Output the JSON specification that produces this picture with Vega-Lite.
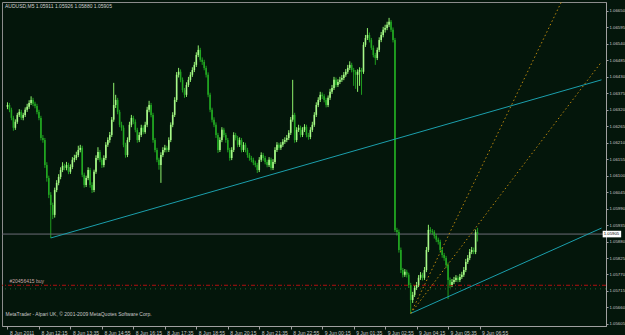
{
"$schema": "https://vega.github.io/schema/vega-lite/v6.json",
"width": 604, "height": 324,
"autosize": {"type": "none"},
"padding": {"left": 2, "top": 2, "right": 19, "bottom": 9},
"background": "#04160b",
"title": {"text": "AUDUSD,M5  1.05911 1.05926 1.05880 1.05905", "anchor": "start", "frame": "group", "orient": "top", "offset": -9, "fontSize": 5, "fontWeight": "normal", "color": "#d0d0d0", "font": "Liberation Sans", "dx": 3, "baseline": "middle"},
"config": {"view": {"stroke": "#8c8c8c", "strokeWidth": 1, "fill": "#04160b"}, "font": "Liberation Sans",
 "axis": {"labelOverlap": false, "grid": false, "labelColor": "#c8c8c8", "tickColor": "#a0a0a0", "domainColor": "#a0a0a0", "labelFlush": false},
 "axisY": {"labelOverlap": false, "labelBound": false}},
"datasets": {
"bars": [
{"i":0,"o":1.06330,"h":1.06345,"l":1.06322,"c":1.06336},
{"i":1,"o":1.06336,"h":1.06343,"l":1.06312,"c":1.06320},
{"i":2,"o":1.06320,"h":1.06327,"l":1.06285,"c":1.06293},
{"i":3,"o":1.06293,"h":1.06300,"l":1.06250,"c":1.06260},
{"i":4,"o":1.06260,"h":1.06288,"l":1.06253,"c":1.06280},
{"i":5,"o":1.06280,"h":1.06310,"l":1.06273,"c":1.06303},
{"i":6,"o":1.06303,"h":1.06322,"l":1.06296,"c":1.06313},
{"i":7,"o":1.06313,"h":1.06320,"l":1.06286,"c":1.06293},
{"i":8,"o":1.06293,"h":1.06310,"l":1.06285,"c":1.06303},
{"i":9,"o":1.06303,"h":1.06328,"l":1.06296,"c":1.06320},
{"i":10,"o":1.06320,"h":1.06340,"l":1.06313,"c":1.06330},
{"i":11,"o":1.06330,"h":1.06352,"l":1.06323,"c":1.06343},
{"i":12,"o":1.06343,"h":1.06365,"l":1.06336,"c":1.06353},
{"i":13,"o":1.06353,"h":1.06360,"l":1.06332,"c":1.06340},
{"i":14,"o":1.06340,"h":1.06347,"l":1.06325,"c":1.06333},
{"i":15,"o":1.06333,"h":1.06340,"l":1.06305,"c":1.06313},
{"i":16,"o":1.06313,"h":1.06320,"l":1.06285,"c":1.06293},
{"i":17,"o":1.06293,"h":1.06300,"l":1.06218,"c":1.06226},
{"i":18,"o":1.06226,"h":1.06236,"l":1.06210,"c":1.06219},
{"i":19,"o":1.06219,"h":1.06226,"l":1.06126,"c":1.06136},
{"i":20,"o":1.06136,"h":1.06145,"l":1.06080,"c":1.06092},
{"i":21,"o":1.06092,"h":1.06100,"l":1.06025,"c":1.06036},
{"i":22,"o":1.06036,"h":1.06045,"l":1.05892,"c":1.06002},
{"i":23,"o":1.06002,"h":1.06010,"l":1.05955,"c":1.05969},
{"i":24,"o":1.05969,"h":1.06060,"l":1.05960,"c":1.06052},
{"i":25,"o":1.06052,"h":1.06085,"l":1.06045,"c":1.06076},
{"i":26,"o":1.06076,"h":1.06105,"l":1.06068,"c":1.06096},
{"i":27,"o":1.06096,"h":1.06128,"l":1.06088,"c":1.06119},
{"i":28,"o":1.06119,"h":1.06145,"l":1.06112,"c":1.06133},
{"i":29,"o":1.06133,"h":1.06140,"l":1.06118,"c":1.06126},
{"i":30,"o":1.06126,"h":1.06146,"l":1.06118,"c":1.06136},
{"i":31,"o":1.06136,"h":1.06143,"l":1.06105,"c":1.06113},
{"i":32,"o":1.06113,"h":1.06138,"l":1.06106,"c":1.06129},
{"i":33,"o":1.06129,"h":1.06162,"l":1.06122,"c":1.06153},
{"i":34,"o":1.06153,"h":1.06170,"l":1.06145,"c":1.06159},
{"i":35,"o":1.06159,"h":1.06180,"l":1.06152,"c":1.06169},
{"i":36,"o":1.06169,"h":1.06200,"l":1.06162,"c":1.06186},
{"i":37,"o":1.06186,"h":1.06203,"l":1.06178,"c":1.06193},
{"i":38,"o":1.06193,"h":1.06200,"l":1.06095,"c":1.06103},
{"i":39,"o":1.06103,"h":1.06110,"l":1.06060,"c":1.06069},
{"i":40,"o":1.06069,"h":1.06100,"l":1.06062,"c":1.06092},
{"i":41,"o":1.06092,"h":1.06128,"l":1.06085,"c":1.06119},
{"i":42,"o":1.06119,"h":1.06126,"l":1.06060,"c":1.06069},
{"i":43,"o":1.06069,"h":1.06078,"l":1.06042,"c":1.06052},
{"i":44,"o":1.06052,"h":1.06120,"l":1.06045,"c":1.06113},
{"i":45,"o":1.06113,"h":1.06168,"l":1.06106,"c":1.06159},
{"i":46,"o":1.06159,"h":1.06195,"l":1.06152,"c":1.06179},
{"i":47,"o":1.06179,"h":1.06186,"l":1.06145,"c":1.06153},
{"i":48,"o":1.06153,"h":1.06160,"l":1.06126,"c":1.06136},
{"i":49,"o":1.06136,"h":1.06168,"l":1.06128,"c":1.06159},
{"i":50,"o":1.06159,"h":1.06212,"l":1.06152,"c":1.06203},
{"i":51,"o":1.06203,"h":1.06228,"l":1.06196,"c":1.06219},
{"i":52,"o":1.06219,"h":1.06246,"l":1.06210,"c":1.06236},
{"i":53,"o":1.06236,"h":1.06296,"l":1.06229,"c":1.06287},
{"i":54,"o":1.06287,"h":1.06410,"l":1.06280,"c":1.06336},
{"i":55,"o":1.06336,"h":1.06370,"l":1.06326,"c":1.06353},
{"i":56,"o":1.06353,"h":1.06360,"l":1.06305,"c":1.06313},
{"i":57,"o":1.06313,"h":1.06320,"l":1.06262,"c":1.06270},
{"i":58,"o":1.06270,"h":1.06280,"l":1.06250,"c":1.06260},
{"i":59,"o":1.06260,"h":1.06268,"l":1.06195,"c":1.06203},
{"i":60,"o":1.06203,"h":1.06210,"l":1.06160,"c":1.06169},
{"i":61,"o":1.06169,"h":1.06228,"l":1.06162,"c":1.06219},
{"i":62,"o":1.06219,"h":1.06280,"l":1.06212,"c":1.06270},
{"i":63,"o":1.06270,"h":1.06303,"l":1.06262,"c":1.06293},
{"i":64,"o":1.06293,"h":1.06300,"l":1.06272,"c":1.06280},
{"i":65,"o":1.06280,"h":1.06288,"l":1.06245,"c":1.06253},
{"i":66,"o":1.06253,"h":1.06260,"l":1.06210,"c":1.06219},
{"i":67,"o":1.06219,"h":1.06245,"l":1.06212,"c":1.06236},
{"i":68,"o":1.06236,"h":1.06270,"l":1.06229,"c":1.06260},
{"i":69,"o":1.06260,"h":1.06268,"l":1.06238,"c":1.06246},
{"i":70,"o":1.06246,"h":1.06280,"l":1.06240,"c":1.06270},
{"i":71,"o":1.06270,"h":1.06330,"l":1.06262,"c":1.06320},
{"i":72,"o":1.06320,"h":1.06350,"l":1.06312,"c":1.06336},
{"i":73,"o":1.06336,"h":1.06343,"l":1.06295,"c":1.06303},
{"i":74,"o":1.06303,"h":1.06310,"l":1.06210,"c":1.06219},
{"i":75,"o":1.06219,"h":1.06226,"l":1.06178,"c":1.06186},
{"i":76,"o":1.06186,"h":1.06193,"l":1.06145,"c":1.06153},
{"i":77,"o":1.06153,"h":1.06160,"l":1.06120,"c":1.06136},
{"i":78,"o":1.06136,"h":1.06178,"l":1.06076,"c":1.06169},
{"i":79,"o":1.06169,"h":1.06195,"l":1.06162,"c":1.06186},
{"i":80,"o":1.06186,"h":1.06203,"l":1.06178,"c":1.06193},
{"i":81,"o":1.06193,"h":1.06200,"l":1.06178,"c":1.06186},
{"i":82,"o":1.06186,"h":1.06228,"l":1.06179,"c":1.06219},
{"i":83,"o":1.06219,"h":1.06278,"l":1.06212,"c":1.06270},
{"i":84,"o":1.06270,"h":1.06312,"l":1.06262,"c":1.06303},
{"i":85,"o":1.06303,"h":1.06362,"l":1.06296,"c":1.06353},
{"i":86,"o":1.06353,"h":1.06446,"l":1.06346,"c":1.06437},
{"i":87,"o":1.06437,"h":1.06460,"l":1.06428,"c":1.06447},
{"i":88,"o":1.06447,"h":1.06455,"l":1.06412,"c":1.06420},
{"i":89,"o":1.06420,"h":1.06428,"l":1.06378,"c":1.06386},
{"i":90,"o":1.06386,"h":1.06393,"l":1.06360,"c":1.06370},
{"i":91,"o":1.06370,"h":1.06412,"l":1.06363,"c":1.06403},
{"i":92,"o":1.06403,"h":1.06430,"l":1.06396,"c":1.06420},
{"i":93,"o":1.06420,"h":1.06446,"l":1.06413,"c":1.06437},
{"i":94,"o":1.06437,"h":1.06462,"l":1.06430,"c":1.06453},
{"i":95,"o":1.06453,"h":1.06480,"l":1.06446,"c":1.06470},
{"i":96,"o":1.06470,"h":1.06512,"l":1.06463,"c":1.06503},
{"i":97,"o":1.06503,"h":1.06535,"l":1.06496,"c":1.06520},
{"i":98,"o":1.06520,"h":1.06527,"l":1.06480,"c":1.06487},
{"i":99,"o":1.06487,"h":1.06495,"l":1.06470,"c":1.06480},
{"i":100,"o":1.06480,"h":1.06487,"l":1.06452,"c":1.06460},
{"i":101,"o":1.06460,"h":1.06467,"l":1.06428,"c":1.06437},
{"i":102,"o":1.06437,"h":1.06445,"l":1.06362,"c":1.06370},
{"i":103,"o":1.06370,"h":1.06377,"l":1.06312,"c":1.06320},
{"i":104,"o":1.06320,"h":1.06327,"l":1.06278,"c":1.06287},
{"i":105,"o":1.06287,"h":1.06295,"l":1.06262,"c":1.06270},
{"i":106,"o":1.06270,"h":1.06278,"l":1.06226,"c":1.06236},
{"i":107,"o":1.06236,"h":1.06243,"l":1.06176,"c":1.06186},
{"i":108,"o":1.06186,"h":1.06228,"l":1.06179,"c":1.06219},
{"i":109,"o":1.06219,"h":1.06262,"l":1.06212,"c":1.06253},
{"i":110,"o":1.06253,"h":1.06260,"l":1.06228,"c":1.06236},
{"i":111,"o":1.06236,"h":1.06243,"l":1.06210,"c":1.06219},
{"i":112,"o":1.06219,"h":1.06226,"l":1.06178,"c":1.06186},
{"i":113,"o":1.06186,"h":1.06193,"l":1.06150,"c":1.06159},
{"i":114,"o":1.06159,"h":1.06195,"l":1.06152,"c":1.06186},
{"i":115,"o":1.06186,"h":1.06245,"l":1.06179,"c":1.06236},
{"i":116,"o":1.06236,"h":1.06243,"l":1.06218,"c":1.06226},
{"i":117,"o":1.06226,"h":1.06233,"l":1.06195,"c":1.06203},
{"i":118,"o":1.06203,"h":1.06228,"l":1.06196,"c":1.06219},
{"i":119,"o":1.06219,"h":1.06226,"l":1.06178,"c":1.06186},
{"i":120,"o":1.06186,"h":1.06212,"l":1.06179,"c":1.06203},
{"i":121,"o":1.06203,"h":1.06210,"l":1.06178,"c":1.06186},
{"i":122,"o":1.06186,"h":1.06193,"l":1.06160,"c":1.06169},
{"i":123,"o":1.06169,"h":1.06176,"l":1.06150,"c":1.06159},
{"i":124,"o":1.06159,"h":1.06166,"l":1.06145,"c":1.06153},
{"i":125,"o":1.06153,"h":1.06160,"l":1.06135,"c":1.06143},
{"i":126,"o":1.06143,"h":1.06150,"l":1.06128,"c":1.06136},
{"i":127,"o":1.06136,"h":1.06143,"l":1.06109,"c":1.06119},
{"i":128,"o":1.06119,"h":1.06162,"l":1.06112,"c":1.06153},
{"i":129,"o":1.06153,"h":1.06178,"l":1.06146,"c":1.06169},
{"i":130,"o":1.06169,"h":1.06176,"l":1.06150,"c":1.06159},
{"i":131,"o":1.06159,"h":1.06166,"l":1.06138,"c":1.06146},
{"i":132,"o":1.06146,"h":1.06153,"l":1.06128,"c":1.06136},
{"i":133,"o":1.06136,"h":1.06162,"l":1.06129,"c":1.06153},
{"i":134,"o":1.06153,"h":1.06160,"l":1.06118,"c":1.06126},
{"i":135,"o":1.06126,"h":1.06155,"l":1.06119,"c":1.06146},
{"i":136,"o":1.06146,"h":1.06195,"l":1.06139,"c":1.06186},
{"i":137,"o":1.06186,"h":1.06212,"l":1.06179,"c":1.06203},
{"i":138,"o":1.06203,"h":1.06210,"l":1.06186,"c":1.06193},
{"i":139,"o":1.06193,"h":1.06212,"l":1.06186,"c":1.06203},
{"i":140,"o":1.06203,"h":1.06222,"l":1.06196,"c":1.06213},
{"i":141,"o":1.06213,"h":1.06228,"l":1.06206,"c":1.06219},
{"i":142,"o":1.06219,"h":1.06236,"l":1.06212,"c":1.06226},
{"i":143,"o":1.06226,"h":1.06252,"l":1.06219,"c":1.06243},
{"i":144,"o":1.06243,"h":1.06296,"l":1.06236,"c":1.06287},
{"i":145,"o":1.06287,"h":1.06420,"l":1.06280,"c":1.06303},
{"i":146,"o":1.06303,"h":1.06310,"l":1.06210,"c":1.06219},
{"i":147,"o":1.06219,"h":1.06262,"l":1.06212,"c":1.06253},
{"i":148,"o":1.06253,"h":1.06270,"l":1.06246,"c":1.06260},
{"i":149,"o":1.06260,"h":1.06267,"l":1.06228,"c":1.06236},
{"i":150,"o":1.06236,"h":1.06262,"l":1.06229,"c":1.06253},
{"i":151,"o":1.06253,"h":1.06272,"l":1.06246,"c":1.06263},
{"i":152,"o":1.06263,"h":1.06270,"l":1.06228,"c":1.06236},
{"i":153,"o":1.06236,"h":1.06243,"l":1.06220,"c":1.06229},
{"i":154,"o":1.06229,"h":1.06262,"l":1.06222,"c":1.06253},
{"i":155,"o":1.06253,"h":1.06280,"l":1.06246,"c":1.06270},
{"i":156,"o":1.06270,"h":1.06312,"l":1.06263,"c":1.06303},
{"i":157,"o":1.06303,"h":1.06345,"l":1.06296,"c":1.06336},
{"i":158,"o":1.06336,"h":1.06362,"l":1.06329,"c":1.06353},
{"i":159,"o":1.06353,"h":1.06380,"l":1.06346,"c":1.06370},
{"i":160,"o":1.06370,"h":1.06378,"l":1.06356,"c":1.06365},
{"i":161,"o":1.06365,"h":1.06372,"l":1.06345,"c":1.06353},
{"i":162,"o":1.06353,"h":1.06360,"l":1.06328,"c":1.06336},
{"i":163,"o":1.06336,"h":1.06368,"l":1.06329,"c":1.06360},
{"i":164,"o":1.06360,"h":1.06390,"l":1.06353,"c":1.06380},
{"i":165,"o":1.06380,"h":1.06403,"l":1.06373,"c":1.06393},
{"i":166,"o":1.06393,"h":1.06430,"l":1.06386,"c":1.06420},
{"i":167,"o":1.06420,"h":1.06428,"l":1.06395,"c":1.06403},
{"i":168,"o":1.06403,"h":1.06422,"l":1.06396,"c":1.06413},
{"i":169,"o":1.06413,"h":1.06430,"l":1.06406,"c":1.06420},
{"i":170,"o":1.06420,"h":1.06436,"l":1.06413,"c":1.06426},
{"i":171,"o":1.06426,"h":1.06446,"l":1.06419,"c":1.06437},
{"i":172,"o":1.06437,"h":1.06456,"l":1.06430,"c":1.06447},
{"i":173,"o":1.06447,"h":1.06470,"l":1.06440,"c":1.06460},
{"i":174,"o":1.06460,"h":1.06482,"l":1.06453,"c":1.06470},
{"i":175,"o":1.06470,"h":1.06477,"l":1.06445,"c":1.06453},
{"i":176,"o":1.06453,"h":1.06460,"l":1.06400,"c":1.06447},
{"i":177,"o":1.06447,"h":1.06453,"l":1.06390,"c":1.06437},
{"i":178,"o":1.06437,"h":1.06455,"l":1.06380,"c":1.06447},
{"i":179,"o":1.06447,"h":1.06462,"l":1.06400,"c":1.06453},
{"i":180,"o":1.06453,"h":1.06460,"l":1.06370,"c":1.06447},
{"i":181,"o":1.06447,"h":1.06546,"l":1.06440,"c":1.06537},
{"i":182,"o":1.06537,"h":1.06570,"l":1.06530,"c":1.06560},
{"i":183,"o":1.06560,"h":1.06593,"l":1.06553,"c":1.06570},
{"i":184,"o":1.06570,"h":1.06578,"l":1.06545,"c":1.06553},
{"i":185,"o":1.06553,"h":1.06560,"l":1.06520,"c":1.06527},
{"i":186,"o":1.06527,"h":1.06535,"l":1.06495,"c":1.06503},
{"i":187,"o":1.06503,"h":1.06510,"l":1.06470,"c":1.06493},
{"i":188,"o":1.06493,"h":1.06528,"l":1.06486,"c":1.06520},
{"i":189,"o":1.06520,"h":1.06562,"l":1.06513,"c":1.06553},
{"i":190,"o":1.06553,"h":1.06580,"l":1.06546,"c":1.06570},
{"i":191,"o":1.06570,"h":1.06597,"l":1.06562,"c":1.06587},
{"i":192,"o":1.06587,"h":1.06604,"l":1.06578,"c":1.06593},
{"i":193,"o":1.06593,"h":1.06614,"l":1.06586,"c":1.06604},
{"i":194,"o":1.06604,"h":1.06627,"l":1.06596,"c":1.06614},
{"i":195,"o":1.06614,"h":1.06620,"l":1.06580,"c":1.06587},
{"i":196,"o":1.06587,"h":1.06595,"l":1.06545,"c":1.06553},
{"i":197,"o":1.06553,"h":1.06560,"l":1.05912,"c":1.05919},
{"i":198,"o":1.05919,"h":1.05926,"l":1.05900,"c":1.05912},
{"i":199,"o":1.05912,"h":1.05920,"l":1.05843,"c":1.05852},
{"i":200,"o":1.05852,"h":1.05860,"l":1.05775,"c":1.05785},
{"i":201,"o":1.05785,"h":1.05792,"l":1.05760,"c":1.05769},
{"i":202,"o":1.05769,"h":1.05788,"l":1.05762,"c":1.05779},
{"i":203,"o":1.05779,"h":1.05786,"l":1.05760,"c":1.05769},
{"i":204,"o":1.05769,"h":1.05776,"l":1.05725,"c":1.05735},
{"i":205,"o":1.05735,"h":1.05742,"l":1.05642,"c":1.05685},
{"i":206,"o":1.05685,"h":1.05712,"l":1.05675,"c":1.05702},
{"i":207,"o":1.05702,"h":1.05735,"l":1.05695,"c":1.05725},
{"i":208,"o":1.05725,"h":1.05745,"l":1.05718,"c":1.05735},
{"i":209,"o":1.05735,"h":1.05768,"l":1.05728,"c":1.05759},
{"i":210,"o":1.05759,"h":1.05778,"l":1.05752,"c":1.05769},
{"i":211,"o":1.05769,"h":1.05776,"l":1.05750,"c":1.05759},
{"i":212,"o":1.05759,"h":1.05795,"l":1.05752,"c":1.05785},
{"i":213,"o":1.05785,"h":1.05862,"l":1.05778,"c":1.05852},
{"i":214,"o":1.05852,"h":1.05936,"l":1.05845,"c":1.05919},
{"i":215,"o":1.05919,"h":1.05928,"l":1.05906,"c":1.05915},
{"i":216,"o":1.05915,"h":1.05922,"l":1.05903,"c":1.05912},
{"i":217,"o":1.05912,"h":1.05918,"l":1.05890,"c":1.05899},
{"i":218,"o":1.05899,"h":1.05906,"l":1.05878,"c":1.05886},
{"i":219,"o":1.05886,"h":1.05893,"l":1.05870,"c":1.05879},
{"i":220,"o":1.05879,"h":1.05886,"l":1.05843,"c":1.05852},
{"i":221,"o":1.05852,"h":1.05860,"l":1.05826,"c":1.05835},
{"i":222,"o":1.05835,"h":1.05842,"l":1.05816,"c":1.05825},
{"i":223,"o":1.05825,"h":1.05832,"l":1.05792,"c":1.05802},
{"i":224,"o":1.05802,"h":1.05810,"l":1.05688,"c":1.05752},
{"i":225,"o":1.05752,"h":1.05760,"l":1.05725,"c":1.05735},
{"i":226,"o":1.05735,"h":1.05755,"l":1.05728,"c":1.05745},
{"i":227,"o":1.05745,"h":1.05762,"l":1.05738,"c":1.05752},
{"i":228,"o":1.05752,"h":1.05768,"l":1.05745,"c":1.05759},
{"i":229,"o":1.05759,"h":1.05766,"l":1.05744,"c":1.05752},
{"i":230,"o":1.05752,"h":1.05772,"l":1.05745,"c":1.05762},
{"i":231,"o":1.05762,"h":1.05779,"l":1.05755,"c":1.05769},
{"i":232,"o":1.05769,"h":1.05795,"l":1.05762,"c":1.05785},
{"i":233,"o":1.05785,"h":1.05822,"l":1.05778,"c":1.05812},
{"i":234,"o":1.05812,"h":1.05835,"l":1.05805,"c":1.05825},
{"i":235,"o":1.05825,"h":1.05855,"l":1.05818,"c":1.05845},
{"i":236,"o":1.05845,"h":1.05862,"l":1.05838,"c":1.05852},
{"i":237,"o":1.05852,"h":1.05860,"l":1.05838,"c":1.05845},
{"i":238,"o":1.05845,"h":1.05920,"l":1.05838,"c":1.05911},
{"i":239,"o":1.05911,"h":1.05926,"l":1.05880,"c":1.05905}
],
"segs": [
{"kind":"trend","x":22,"y":1.05892,"x2":302,"y2":1.06420},
{"kind":"trend","x":205,"y":1.05640,"x2":302,"y2":1.05925},
{"kind":"fan","x":205,"y":1.05640,"x2":302,"y2":1.06957},
{"kind":"fan","x":205,"y":1.05640,"x2":302,"y2":1.06480}
]
},
"layer": [
{"data": {"name": "bars"}, "mark": {"type": "rule", "strokeWidth": 1},
 "encoding": {
  "x": {"field": "i", "type": "quantitative", "scale": {"domain": [-0.25, 301.75], "nice": false, "zero": false},
   "axis": {"orient": "bottom", "values": [0,16,32,48,64,80,96,112,128,144,160,176,192,208,224,240], "tickCount": 40,
    "labelExpr": "['8 Jun 2011','8 Jun 12:15','8 Jun 13:35','8 Jun 14:55','8 Jun 16:15','8 Jun 17:35','8 Jun 18:55','8 Jun 20:15','8 Jun 21:35','8 Jun 22:55','9 Jun 00:15','9 Jun 01:35','9 Jun 02:55','9 Jun 04:15','9 Jun 05:35','9 Jun 06:55'][round(datum.value/16)]",
    "labelAlign": "left", "labelBaseline": "top", "labelPadding": 1, "labelOffset": 2, "labelFontSize": 5, "labelColor": "#c8c8c8", "labelOverlap": false, "labelFlush": false,
    "tickColor": "#a0a0a0", "tickSize": 3, "domainColor": "#a0a0a0", "grid": false,
    "title": "MetaTrader - Alpari UK, © 2001-2009 MetaQuotes Software Corp.", "titleX": 3, "titleY": -10, "titleAlign": "left", "titleAnchor": "start", "titleBaseline": "bottom", "titleFontSize": 5, "titleFontWeight": "normal", "titleColor": "#c8c8c8"}},
  "y": {"field": "l", "type": "quantitative", "scale": {"domain": [1.05598, 1.06680], "nice": false, "zero": false},
   "axis": {"orient": "right", "values": [1.05605,1.05660,1.05715,1.05770,1.05825,1.05880,1.05935,1.05990,1.06045,1.06100,1.06155,1.06210,1.06265,1.06320,1.06375,1.06430,1.06485,1.06540,1.06595,1.06650], "tickCount": 40,
    "format": ".5f", "labelFontSize": 4.3, "labelColor": "#c8c8c8", "labelPadding": 1, "labelOverlap": false, "labelBound": false, "labelFlush": false, "labelSeparation": 0, "tickColor": "#a0a0a0", "tickSize": 2, "domainColor": "#a0a0a0", "grid": false, "title": null}},
  "y2": {"field": "h"},
  "color": {"condition": {"test": "datum.c >= datum.o", "value": "#8ef06c"}, "value": "#1f9e1f"}
 }},
{"data": {"values": [{"p": 1.05905}]}, "mark": {"type": "rule", "color": "#6c6c78", "strokeWidth": 1}, "encoding": {"y": {"field": "p", "type": "quantitative"}}},
{"data": {"values": [{"p": 1.05734}]}, "mark": {"type": "rule", "color": "#b01010", "strokeWidth": 1, "strokeDash": [4, 2, 1, 2]}, "encoding": {"y": {"field": "p", "type": "quantitative"}}},
{"data": {"values": [{"p": 1.05722}]}, "mark": {"type": "rule", "color": "#1f6b2f", "strokeWidth": 1, "strokeDash": [1, 4]}, "encoding": {"y": {"field": "p", "type": "quantitative"}}},
{"data": {"values": [{"i": 0, "p": 1.05734, "t": "#20456415 buy"}]}, "mark": {"type": "text", "align": "left", "baseline": "bottom", "dx": 2, "dy": -1, "fontSize": 5, "color": "#c8a8a8"}, "encoding": {"x": {"field": "i", "type": "quantitative"}, "y": {"field": "p", "type": "quantitative"}, "text": {"field": "t"}}},
{"data": {"name": "bars"}, "mark": {"type": "bar", "size": 1.6},
 "encoding": {
  "x": {"field": "i", "type": "quantitative"},
  "y": {"field": "o", "type": "quantitative"},
  "y2": {"field": "c"},
  "color": {"condition": {"test": "datum.c >= datum.o", "value": "#a8f88a"}, "value": "#22a822"}
 }},
{"data": {"name": "segs"}, "transform": [{"filter": "datum.kind == 'trend'"}], "mark": {"type": "rule", "color": "#1b9fac", "strokeWidth": 1, "clip": true},
 "encoding": {"x": {"field": "x", "type": "quantitative"}, "x2": {"field": "x2"}, "y": {"field": "y", "type": "quantitative"}, "y2": {"field": "y2"}}},
{"data": {"name": "segs"}, "transform": [{"filter": "datum.kind == 'fan'"}], "mark": {"type": "rule", "color": "#b8860b", "strokeWidth": 1, "strokeDash": [1.5, 2.5], "clip": true},
 "encoding": {"x": {"field": "x", "type": "quantitative"}, "x2": {"field": "x2"}, "y": {"field": "y", "type": "quantitative"}, "y2": {"field": "y2"}}},
{"data": {"values": [{"a": 302.6, "b": 312, "p1": 1.05894, "p2": 1.05916}]}, "mark": {"type": "rect", "color": "#ffffff", "clip": false},
 "encoding": {"x": {"field": "a", "type": "quantitative"}, "x2": {"field": "b"}, "y": {"field": "p1", "type": "quantitative"}, "y2": {"field": "p2"}}},
{"data": {"values": [{"a": 303.1, "p": 1.05905, "t": "1.05905"}]}, "mark": {"type": "text", "align": "left", "baseline": "middle", "fontSize": 4.3, "color": "#000000", "clip": false},
 "encoding": {"x": {"field": "a", "type": "quantitative"}, "y": {"field": "p", "type": "quantitative"}, "text": {"field": "t"}}}
]
}
